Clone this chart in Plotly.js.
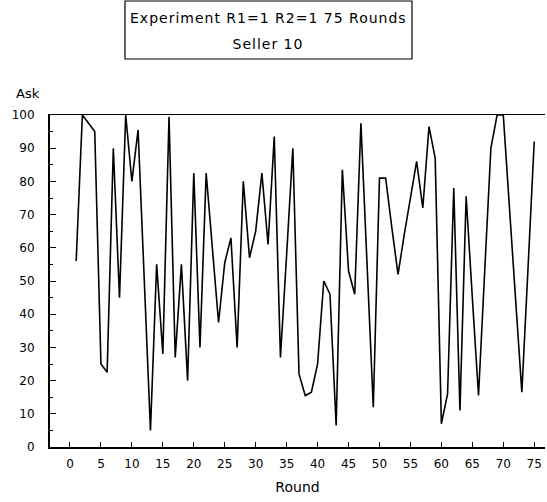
<!DOCTYPE html>
<html>
<head>
<meta charset="utf-8">
<script src="https://cdn.plot.ly/plotly-3.0.1.min.js"></script>
<style>
html,body{margin:0;padding:0;background:#fff;}
#chart{width:547px;height:502px;}
#chart .annotation[data-index="0"] text,
#chart .annotation[data-index="1"] text{letter-spacing:1px;}
</style>
</head>
<body>
<div id="chart"></div>
<script>
const rounds = [1,2,3,4,5,6,7,8,9,10,11,12,13,14,15,16,17,18,19,20,21,22,23,24,25,26,27,28,29,30,31,32,33,34,35,36,37,38,39,40,41,42,43,44,45,46,47,48,49,50,51,52,53,54,55,56,57,58,59,60,61,62,63,64,65,66,67,68,69,70,71,72,73,74,75];
const ask = [56,100,97.5,95,25,22.5,90,45,100,80,95.5,50,5,55,28,99.5,27,55,20,82.5,30,82.5,60,37.5,55.5,63,30,80,57,65,82.5,61,93.5,27,58,90,22,15.5,16.5,25,50,46,6.5,83.5,53,46,97.5,55,12,81,81,66,52,64,75,86,72,96.5,87,7,16,78,11,75.5,45,15.5,53,90,100,100,72,44,16.5,54,92];
const xTicks = [0,5,10,15,20,25,30,35,40,45,50,55,60,65,70,75];
const yTicks = [0,10,20,30,40,50,60,70,80,90,100];
const titleLines = ["Experiment R1=1 R2=1 75 Rounds", "Seller 10"];
const xLabel = "Round";
const yLabel = "Ask";

const FONT = "'DejaVu Sans', sans-serif";

const trace = {
  x: rounds, y: ask, type: 'scatter', mode: 'lines',
  line: {color: '#000', width: 1.6},
  hoverinfo: 'skip'
};

const layout = {
  width: 547, height: 502,
  margin: {l: 50, r: 2, t: 115, b: 55},
  paper_bgcolor: '#fff', plot_bgcolor: '#fff',
  showlegend: false,
  font: {family: FONT, color: '#000', size: 12},
  xaxis: {
    range: [-3.23, 76.74],
    tickvals: xTicks, ticktext: xTicks.map(String),
    ticks: 'inside', ticklen: 5, tickwidth: 1, tickcolor: '#000',
    showline: true, linecolor: '#000', linewidth: 1.5, mirror: true,
    showgrid: false, zeroline: false,
    ticklabelstandoff: 5,
    tickfont: {family: FONT, size: 12, color: '#000'},
    title: {text: xLabel, font: {family: FONT, size: 14, color: '#000'}, standoff: 12}
  },
  yaxis: {
    range: [0, 100],
    tickvals: yTicks, ticktext: yTicks.map(String),
    ticks: 'inside', ticklen: 6, tickwidth: 1, tickcolor: '#000',
    minor: {dtick: 5, ticks: 'inside', ticklen: 3, tickcolor: '#000', showgrid: false},
    showline: true, linecolor: '#000', linewidth: 2,
    showgrid: false, zeroline: false,
    ticklabelstandoff: 11,
    tickfont: {family: FONT, size: 12, color: '#000'}
  },
  shapes: [
    {type: 'rect', xref: 'paper', yref: 'paper',
     x0: 0.1515, x1: 0.7313, y0: 1.1687, y1: 1.3434,
     line: {color: '#000', width: 1.2}, fillcolor: 'rgba(0,0,0,0)'}
  ],
  annotations: [
    {
      xref: 'paper', yref: 'paper', x: 0.4414, y: 1.2922, xanchor: 'center', yanchor: 'middle',
      text: titleLines[0], showarrow: false,
      font: {family: FONT, size: 14, color: '#000'}
    },
    {
      xref: 'paper', yref: 'paper', x: 0.4414, y: 1.2139, xanchor: 'center', yanchor: 'middle',
      text: titleLines[1], showarrow: false,
      font: {family: FONT, size: 14, color: '#000'}
    },
    {
      xref: 'paper', yref: 'paper', x: -0.072, y: 1.066, xanchor: 'left', yanchor: 'middle',
      text: yLabel, showarrow: false,
      font: {family: FONT, size: 13, color: '#000'}
    }
  ]
};

Plotly.newPlot('chart', [trace], layout, {displayModeBar: false, staticPlot: true});
</script>
</body>
</html>
